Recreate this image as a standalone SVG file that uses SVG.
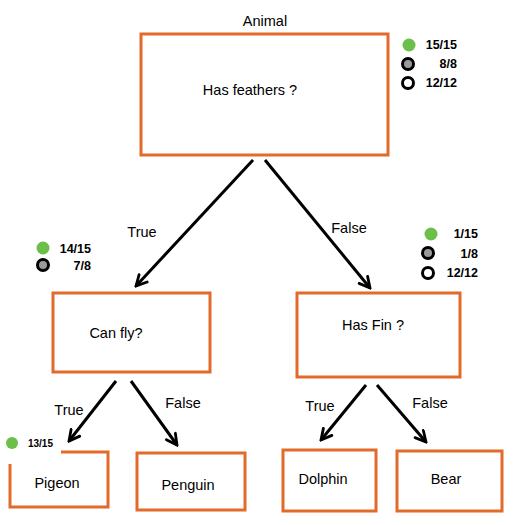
<svg xmlns="http://www.w3.org/2000/svg" width="515" height="525" viewBox="0 0 515 525">
<defs>
<marker id="arr" viewBox="0 0 14 14" refX="12" refY="7" markerWidth="14" markerHeight="14" markerUnits="userSpaceOnUse" orient="auto">
<path d="M1.5,1.5 L12,7 L1.5,12.5" fill="none" stroke="#000" stroke-width="2.8" stroke-linecap="round" stroke-linejoin="miter"/>
</marker>
</defs>
<style>
.box{fill:#fff;stroke:#E26B2B;stroke-width:3}
.lbl{font-family:"Liberation Sans",Arial,sans-serif;font-size:14.5px;fill:#000;text-anchor:middle}
.edge{font-family:"Liberation Sans",Arial,sans-serif;font-size:14.5px;fill:#000;text-anchor:middle}
.st{font-family:"Liberation Sans",Arial,sans-serif;font-size:12.5px;font-weight:bold;fill:#000;text-anchor:end}
.g{fill:#6CC04A}
.gr{fill:#9a9a9a;stroke:#000;stroke-width:3}
.wh{fill:#fff;stroke:#000;stroke-width:3}
.con{stroke:#000;stroke-width:3;fill:none;marker-end:url(#arr)}
</style>
<rect width="515" height="525" fill="#fff"/>
<g id="connectors">
<line class="con" x1="253" y1="160" x2="136" y2="286"/>
<line class="con" x1="265" y1="160" x2="370" y2="288"/>
<line class="con" x1="116" y1="381" x2="69" y2="441"/>
<line class="con" x1="131" y1="381" x2="177" y2="445"/>
<line class="con" x1="366" y1="385" x2="321" y2="440"/>
<line class="con" x1="377" y1="385" x2="426" y2="442"/>
<text class="edge" x="142" y="237">True</text>
<text class="edge" x="349" y="233">False</text>
<text class="edge" x="69" y="415">True</text>
<text class="edge" x="183" y="408">False</text>
<text class="edge" x="320" y="411">True</text>
<text class="edge" x="430" y="408">False</text>
</g>
<g id="root">
<text class="lbl" x="265" y="26">Animal</text>
<rect class="box" x="141" y="34" width="247" height="121"/>
<text class="lbl" x="250" y="95">Has feathers ?</text>
<circle class="g" cx="409" cy="45" r="6.5"/>
<circle class="gr" cx="408" cy="64" r="5.5"/>
<circle class="wh" cx="408" cy="83" r="5.5"/>
<text class="st" x="457" y="49">15/15</text>
<text class="st" x="457" y="68">8/8</text>
<text class="st" x="457" y="87">12/12</text>
</g>
<g id="canfly">
<rect class="box" x="53" y="293" width="157" height="79"/>
<text class="lbl" x="116" y="338">Can fly?</text>
<circle class="g" cx="43" cy="248" r="6.5"/>
<circle class="gr" cx="43" cy="265" r="5.5"/>
<text class="st" x="91" y="253">14/15</text>
<text class="st" x="91" y="270">7/8</text>
</g>
<g id="hasfin">
<rect class="box" x="297" y="293" width="163" height="84"/>
<text class="lbl" x="373" y="330">Has Fin ?</text>
<circle class="g" cx="431" cy="234" r="6.5"/>
<circle class="gr" cx="428" cy="253" r="5.5"/>
<circle class="wh" cx="428" cy="273" r="5.5"/>
<text class="st" x="478" y="238">1/15</text>
<text class="st" x="478" y="258">1/8</text>
<text class="st" x="478" y="277">12/12</text>
</g>
<g id="pigeon">
<path class="box" d="M10,464 V507 H108 V452 H61" style="fill:none"/>
<text class="lbl" x="57" y="488">Pigeon</text>
<circle class="g" cx="12" cy="443" r="6"/>
<text class="st" x="53" y="447" style="font-size:10px">13/15</text>
</g>
<g id="penguin">
<rect class="box" x="137" y="453" width="108" height="57"/>
<text class="lbl" x="188" y="490">Penguin</text>
</g>
<g id="dolphin">
<rect class="box" x="283" y="450" width="93" height="61"/>
<text class="lbl" x="323" y="484">Dolphin</text>
</g>
<g id="bear">
<rect class="box" x="397" y="451" width="105" height="60"/>
<text class="lbl" x="446" y="484">Bear</text>
</g>
</svg>
